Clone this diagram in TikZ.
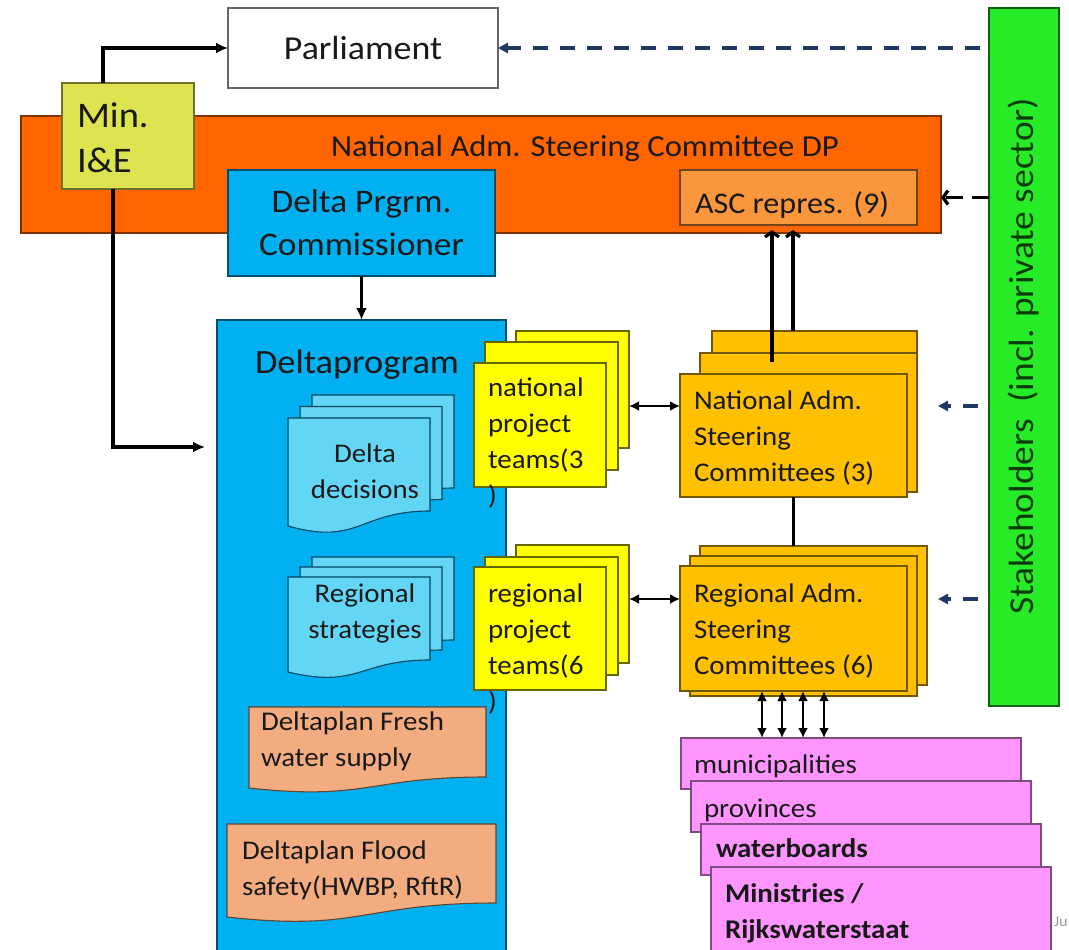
\documentclass[tikz,border=0pt]{standalone}
\usepackage{fontspec}
\setmainfont{Carlito}[FakeStretch=1.07]
\usetikzlibrary{arrows.meta}

\definecolor{nscorange}{RGB}{255,102,0}
\definecolor{minlime}{RGB}{221,228,80}
\definecolor{dpblue}{RGB}{0,176,240}
\definecolor{doclight}{RGB}{100,214,245}
\definecolor{ascorange}{RGB}{250,150,60}
\definecolor{ptyellow}{RGB}{255,255,0}
\definecolor{ascgold}{RGB}{255,192,0}
\definecolor{plansalmon}{RGB}{243,172,128}
\definecolor{govpink}{RGB}{255,150,255}
\definecolor{stakegreen}{RGB}{40,235,40}
\definecolor{dashnavy}{RGB}{31,56,100}

\begin{document}
\begin{tikzpicture}[x=1pt,y=-1pt,
  every node/.style={inner sep=0pt, outer sep=0pt, text=black!90},
  box/.style={draw=black!60, line width=1.1pt, anchor=north west},
  nscbox/.style={box, fill=nscorange, draw=nscorange!50!black},
  minbox/.style={box, fill=minlime, draw=minlime!50!black},
  bluebox/.style={box, fill=dpblue, draw=dpblue!45!black},
  ascbox/.style={box, fill=ascorange, draw=ascorange!45!black},
  ptbox/.style={box, fill=ptyellow, draw=ptyellow!40!black},
  scbox/.style={box, fill=ascgold, draw=ascgold!45!black},
  govbox/.style={box, fill=govpink, draw=govpink!50!black},
  stakebox/.style={box, fill=stakegreen, draw=stakegreen!40!black},
  docbox/.style={fill=doclight, draw=dpblue!40!black, line width=1.1pt},
  planbox/.style={fill=plansalmon, draw=plansalmon!40!black, line width=1.1pt},
  txtbig/.style={font=\fontsize{33}{43}\selectfont},
  txtmid/.style={font=\fontsize{27}{36}\selectfont},
  txtbold/.style={font=\fontsize{27}{36}\selectfont\bfseries},
  arr/.style={line width=3.2pt, -{Latex[length=12pt,width=11pt]}},
  darr/.style={line width=2.7pt, {Latex[length=10pt,width=10pt]}-{Latex[length=10pt,width=10pt]}},
  uparr/.style={line width=3.2pt, shorten >=5pt, -{Straight Barb[length=5pt,width=14pt]}},
  stakearr/.style={line width=3.3pt, dashnavy, dash pattern=on 15pt off 12pt, -{Triangle[length=10pt,width=10pt]}}]
  \useasboundingbox (0,0) rectangle (1069,950);

  % --------------------
  % Top: steering committee, minister, parliament
  % --------------------
  \node[nscbox, minimum width=920pt, minimum height=117pt] (nsc) at (21,116) {};
  \node[anchor=base west, font=\fontsize{30.5}{34}\selectfont] (nsct) at (331,156) {National Adm. Steering Committee DP};

  \node[minbox, minimum width=132pt, minimum height=106pt] (min) at (62,83) {};
  \node[anchor=north west, align=left, font=\fontsize{36}{45}\selectfont] (mint) at (77,103) {Min.\\I\&E};

  \node[bluebox, anchor=center, minimum width=267pt, minimum height=106pt, align=center, txtbig] (dpc) at (361.5,223) {Delta Prgrm.\\Commissioner};

  \node[ascbox, minimum width=237pt, minimum height=55pt] (asc) at (680,170) {};
  \node[anchor=base west, font=\fontsize{30}{36}\selectfont] (asct) at (695,213) {ASC repres. (9)};

  \node[box, fill=white, anchor=center, minimum width=270pt, minimum height=80pt, font=\fontsize{33.5}{40}\selectfont] (parl) at (363,48) {Parliament};

  % --------------------
  % Deltaprogram
  % --------------------
  \node[bluebox, minimum width=289pt, minimum height=635pt] (dp) at (217,320) {};
  \node[anchor=base, font=\fontsize{34}{40}\selectfont] (dpt) at (357,373) {Deltaprogram};

  % stacked documents
  \foreach \i in {2,1,0}
    \draw[docbox] ({288+12*\i},{418-11.5*\i}) -- ++(142,0) -- ++(0,93) .. controls +(-71,0) and +(71,20) .. ++(-142,15) -- cycle;
  \node[anchor=north, align=center, txtmid] (dd) at (365,444) {Delta\\decisions};

  \foreach \i in {2,1,0}
    \draw[docbox] ({288+12*\i},{577-10*\i}) -- ++(142,0) -- ++(0,83) .. controls +(-71,0) and +(71,17) .. ++(-142,12) -- cycle;
  \node[anchor=north, align=center, txtmid] (rs) at (365,584) {Regional\\strategies};

  % deltaplans
  \draw[planbox] (249,707) -- ++(237,0) -- ++(0,70) .. controls +(-118,0) and +(118,13) .. ++(-237,11) -- cycle;
  \node[anchor=north west, align=left, txtmid] (fw) at (261,712) {Deltaplan Fresh\\water supply};
  \draw[planbox] (227,824) -- ++(269,0) -- ++(0,79) .. controls +(-134,0) and +(134,15) .. ++(-269,14) -- cycle;
  \node[anchor=north west, align=left, txtmid] (fs) at (242,841) {Deltaplan Flood\\safety(HWBP, RftR)};

  % --------------------
  % Project teams and adm. steering committees
  % --------------------
  \foreach \n/\x/\y/\w/\h in {npt2/516/331/113/117, npt1/485/342/133/128, npt0/474/363/132/124,
                              rpt2/516/545/113/118, rpt1/485/557/133/118, rpt0/474/567/132/123}
    \node[ptbox, minimum width=\w pt, minimum height=\h pt] (\n) at (\x,\y) {};
  \node[anchor=north west, align=left, txtmid] (nptt) at (488,378) {national\\project\\teams(3\\)};
  \node[anchor=north west, align=left, txtmid] (rptt) at (488,584) {regional\\project\\teams(6\\)};

  \foreach \n/\x/\y/\w/\h in {nasc2/712/331/205/157, nasc1/700/353/217/139, nasc0/680/374/227/123,
                              rasc2/700/546/227/139, rasc1/690/556/227/140, rasc0/680/566/227/125}
    \node[scbox, minimum width=\w pt, minimum height=\h pt] (\n) at (\x,\y) {};
  \node[anchor=north west, align=left, txtmid] (nasct) at (694,391) {National Adm.\\Steering\\Committees (3)};
  \node[anchor=north west, align=left, txtmid] (rasct) at (694,584) {Regional Adm.\\Steering\\Committees (6)};

  % --------------------
  % Stakeholders
  % --------------------
  \node[stakebox, minimum width=70pt, minimum height=698pt] (stake) at (989,8) {};
  \node[rotate=90, font=\fontsize{35}{40}\selectfont, text=stakegreen!25!black] (staket) at (1024,356) {Stakeholders\ \ (incl. private sector)};

  % --------------------
  % Regional partners
  % --------------------
  \foreach \n/\x/\y/\h in {muni/681/738/51, prov/691/781/51, wb/701/824/51, mini/711/867/93}
    \node[govbox, minimum width=340pt, minimum height=\h pt] (\n) at (\x,\y) {};
  \node[anchor=base west, txtmid] (munit) at (694,773) {municipalities};
  \node[anchor=base west, txtmid] (provt) at (704,817) {provinces};
  \node[anchor=base west, txtbold] (wbt) at (716,857) {waterboards};
  \node[anchor=north west, align=left, txtbold] (minit) at (725,884) {Ministries /\\Rijkswaterstaat};
  \node[anchor=base west, font=\fontsize{15}{18}\selectfont, text=black!40] (ju) at (1054,926) {Ju};

  % --------------------
  % Connectors
  % --------------------
  \coordinate (natin) at (938,406);
  \coordinate (regin) at (938,599);
  \draw[arr] ([xshift=41pt]min.north west) |- (parl.west);
  \draw[arr, shorten >=12pt] ([xshift=51pt]min.south west) |- ([yshift=-127pt]dp.north west);
  \draw[arr] (dpc.south) -- (dp.north);
  \draw[uparr] ([xshift=72pt,yshift=-9pt]nasc1.north west) -- ([xshift=92pt]asc.south west);
  \draw[uparr] ([xshift=81pt]nasc2.north west) -- ([xshift=113pt]asc.south west);
  \draw[line width=3pt] ([xshift=113pt]nasc0.south west) -- ([xshift=93pt]rasc2.north west);
  \draw[darr] (npt2.east |- natin) -- (nasc0.west |- natin);
  \draw[darr] (rpt2.east |- regin) -- (rasc0.west |- regin);
  \foreach \d in {82,102,123,144}
    \draw[darr] ([xshift=\d pt]rasc0.south west) -- ([xshift=\d pt]rasc0.south west |- muni.north);
  \draw[stakearr, shorten <=9pt] (stake.west |- parl.east) -- (parl.east);
  \draw[stakearr, black, dash pattern=on 17pt off 9pt, -{Straight Barb[length=5pt,width=14pt]}] (stake.west |- asc.east) -- (nsc.east |- asc.east);
  \draw[stakearr, shorten <=11pt] (stake.west |- natin) -- (natin);
  \draw[stakearr, shorten <=11pt] (stake.west |- regin) -- (regin);
\end{tikzpicture}
\end{document}
